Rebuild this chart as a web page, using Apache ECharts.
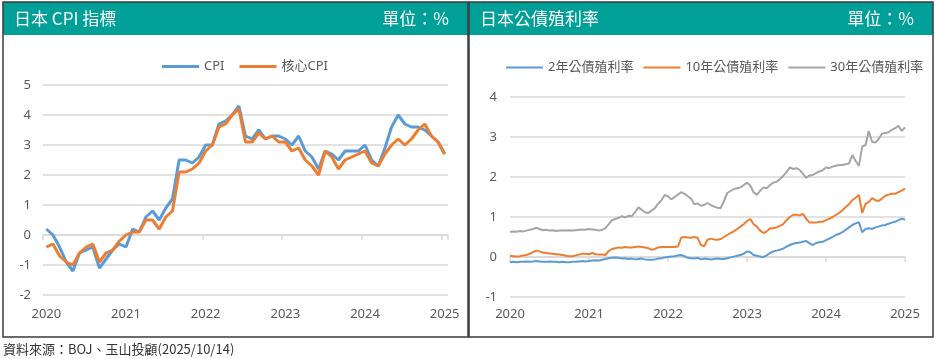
<!DOCTYPE html>
<html><head><meta charset="utf-8">
<script src="https://cdn.jsdelivr.net/npm/echarts@6/dist/echarts.min.js"></script>
<style>html,body{margin:0;padding:0;background:#fff;}#c{width:936px;height:359px;}</style>
</head><body><div id="c"></div>
<script>
// ---------- data ----------
const yearLabels = ['2020','2021','2022','2023','2024','2025'];

// monthly, Aug 2020 .. Aug 2025
const cpiMonths = [];
for (let k = 0; k < 61; k++) { const m = 7 + k; cpiMonths.push((2020 + Math.floor(m / 12)) + '-' + String(m % 12 + 1).padStart(2, '0')); }

const cpi = [0.2,0.0,-0.4,-0.9,-1.2,
  -0.6,-0.5,-0.4,-1.1,-0.8,-0.5,-0.3,-0.4,0.2,0.1,0.6,0.8,
  0.5,0.9,1.2,2.5,2.5,2.4,2.6,3.0,3.0,3.7,3.8,4.0,
  4.3,3.3,3.2,3.5,3.2,3.3,3.3,3.2,3.0,3.3,2.8,2.6,
  2.2,2.8,2.7,2.5,2.8,2.8,2.8,3.0,2.5,2.3,2.9,3.6,
  4.0,3.7,3.6,3.6,3.5,3.3,3.1,2.7];
const coreCpi = [-0.4,-0.3,-0.7,-0.9,-1.0,
  -0.6,-0.4,-0.3,-0.9,-0.6,-0.5,-0.2,0.0,0.1,0.1,0.5,0.5,
  0.2,0.6,0.8,2.1,2.1,2.2,2.4,2.8,3.0,3.6,3.7,4.0,
  4.2,3.1,3.1,3.4,3.2,3.3,3.1,3.1,2.8,2.9,2.5,2.3,
  2.0,2.8,2.6,2.2,2.5,2.6,2.7,2.8,2.4,2.3,2.7,3.0,
  3.2,3.0,3.2,3.5,3.7,3.3,3.1,2.7];

// semi-monthly, Oct 2020 .. Oct 2025
const bondDates = [];
for (let k = 0; k < 121; k++) { const m = 9 + Math.floor((k + 1) / 2); bondDates.push((2020 + Math.floor(m / 12)) + '-' + String(m % 12 + 1).padStart(2, '0') + (k % 2 === 0 ? '-15' : '-01')); }

const jgb2y = [-0.13,-0.12,-0.13,-0.12,-0.12,-0.11,-0.12,-0.11,-0.10,-0.11,-0.12,-0.12,-0.11,-0.12,-0.12,-0.13,-0.12,-0.13,-0.13,-0.12,-0.12,-0.11,-0.10,-0.11,-0.10,-0.09,-0.08,-0.09,-0.07,-0.05,
  -0.03,-0.02,-0.01,-0.02,-0.04,-0.03,-0.05,-0.04,-0.06,-0.05,-0.04,-0.06,-0.07,-0.07,-0.06,-0.04,-0.03,-0.01,0.00,0.01,0.02,0.04,0.05,0.02,-0.02,-0.03,-0.04,-0.02,-0.06,-0.04,
  -0.05,-0.06,-0.05,-0.04,-0.05,-0.05,-0.03,-0.01,0.01,0.03,0.05,0.08,0.14,0.12,0.05,0.03,0.01,0.00,0.04,0.10,0.14,0.16,0.18,0.21,0.26,0.30,0.33,0.35,0.36,0.38,
  0.40,0.34,0.30,0.35,0.37,0.38,0.42,0.46,0.50,0.55,0.58,0.62,0.68,0.74,0.80,0.84,0.87,0.62,0.70,0.72,0.70,0.74,0.76,0.79,0.80,0.83,0.86,0.88,0.92,0.96,0.93];
const jgb10y = [0.03,0.02,0.01,0.02,0.04,0.05,0.08,0.12,0.16,0.14,0.11,0.10,0.09,0.08,0.07,0.06,0.05,0.03,0.02,0.02,0.04,0.06,0.08,0.08,0.07,0.10,0.07,0.06,0.06,0.05,
  0.15,0.20,0.22,0.24,0.23,0.25,0.24,0.24,0.25,0.26,0.25,0.24,0.22,0.18,0.20,0.24,0.25,0.25,0.25,0.25,0.25,0.26,0.48,0.50,0.49,0.48,0.50,0.48,0.30,0.27,
  0.43,0.46,0.44,0.43,0.45,0.50,0.55,0.60,0.64,0.70,0.76,0.82,0.90,0.95,0.82,0.76,0.66,0.60,0.64,0.72,0.72,0.74,0.78,0.82,0.92,1.00,1.05,1.06,1.04,1.08,
  0.95,0.86,0.86,0.86,0.88,0.88,0.92,0.96,1.00,1.05,1.10,1.17,1.25,1.32,1.42,1.48,1.55,1.10,1.33,1.38,1.47,1.42,1.40,1.46,1.53,1.56,1.58,1.58,1.62,1.66,1.71];
const jgb30y = [0.63,0.64,0.63,0.65,0.64,0.66,0.68,0.70,0.73,0.70,0.67,0.68,0.66,0.67,0.65,0.66,0.67,0.66,0.67,0.66,0.67,0.68,0.69,0.68,0.70,0.69,0.68,0.66,0.68,0.72,
  0.82,0.92,0.95,0.98,1.02,0.99,1.03,1.02,1.12,1.24,1.18,1.12,1.10,1.16,1.22,1.33,1.42,1.55,1.52,1.44,1.50,1.56,1.62,1.58,1.52,1.46,1.32,1.34,1.28,1.30,
  1.35,1.30,1.26,1.23,1.22,1.40,1.60,1.65,1.70,1.72,1.74,1.80,1.86,1.78,1.62,1.55,1.66,1.74,1.72,1.80,1.86,1.88,1.95,2.03,2.12,2.24,2.20,2.22,2.18,2.08,
  1.98,2.04,2.05,2.10,2.14,2.17,2.24,2.22,2.26,2.28,2.30,2.30,2.32,2.34,2.55,2.40,2.28,2.76,2.80,3.15,2.88,2.86,2.95,3.08,3.10,3.12,3.18,3.22,3.28,3.15,3.24];

// ---------- chart ----------
const FONT = '"Noto Sans","Noto Sans CJK TC",sans-serif';
const LBL = '#595959', GRID = '#D9D9D9', HEAD = '#00A098';
const BLUE = '#5B9BD5', ORANGE = '#ED7D31', GRAY = '#A5A5A5';

const chart = echarts.init(document.getElementById('c'));
function panel(x, w, title) {
  return [
    { type: 'rect', shape: { x: x, y: 2, width: w, height: 33 }, style: { fill: HEAD } },
    { type: 'rect', shape: { x: x, y: 2, width: w, height: 335 }, style: { fill: 'none', stroke: '#3a3a3a', lineWidth: 1.5 } },
    { type: 'text', x: x + 11, y: 19, style: { text: title, fill: '#fff', font: '17px "Noto Sans CJK TC", sans-serif', verticalAlign: 'middle' } },
    { type: 'text', x: x + w - 19, y: 19, style: { text: '單位：%', fill: '#fff', font: '17px "Noto Sans CJK TC", sans-serif', align: 'right', verticalAlign: 'middle' } }
  ];
}
const yearFmt = (step) => (v, i) => (i % step === 0 ? yearLabels[i / step] : '');

chart.setOption({
  animation: false,
  textStyle: { fontFamily: FONT },
  graphic: [].concat(panel(3, 465, '日本 CPI 指標'), panel(469, 464, '日本公債殖利率'), [
    { type: 'text', x: 3, y: 349, style: { text: '資料來源：BOJ、玉山投顧(2025/10/14)', fill: '#333', font: '13px "Noto Sans CJK TC", sans-serif', verticalAlign: 'middle' } }
  ]),
  legend: [
    { data: ['CPI', '核心CPI'], left: 157, top: 55, icon: 'rect', itemWidth: 37, itemHeight: 3, itemGap: 15,
      textStyle: { color: LBL, fontSize: 13, fontFamily: FONT } },
    { data: ['2年公債殖利率', '10年公債殖利率', '30年公債殖利率'], left: 501, top: 56, icon: 'rect', itemWidth: 37, itemHeight: 2, itemGap: 10,
      textStyle: { color: LBL, fontSize: 13, fontFamily: FONT } }
  ],
  grid: [
    { left: 43, top: 85, width: 405, height: 210 },
    { left: 510, top: 97, width: 395, height: 200 }
  ],
  xAxis: [
    { gridIndex: 0, type: 'category', data: cpiMonths, boundaryGap: true,
      axisLine: { onZero: true, lineStyle: { color: GRID, width: 1.5 } },
      axisTick: { show: true, interval: 11, length: 5, lineStyle: { color: GRID, width: 1.5 } },
      axisLabel: { show: false }, splitLine: { show: false } },
    { gridIndex: 0, type: 'category', data: cpiMonths, boundaryGap: true, position: 'bottom',
      axisLine: { show: false, onZero: false }, axisTick: { show: false },
      axisLabel: { interval: 11, formatter: yearFmt(12), color: LBL, fontSize: 13, margin: 13 } },
    { gridIndex: 1, type: 'category', data: bondDates, boundaryGap: false,
      axisLine: { onZero: true, lineStyle: { color: GRID, width: 1.5 } },
      axisTick: { show: true, interval: 23, length: 5, lineStyle: { color: GRID, width: 1.5 } },
      axisLabel: { show: false }, splitLine: { show: false } },
    { gridIndex: 1, type: 'category', data: bondDates, boundaryGap: false, position: 'bottom',
      axisLine: { show: false, onZero: false }, axisTick: { show: false },
      axisLabel: { interval: 23, formatter: yearFmt(24), color: LBL, fontSize: 13, margin: 11 } }
  ],
  yAxis: [
    { gridIndex: 0, type: 'value', min: -2, max: 5, interval: 1,
      axisLine: { show: false }, axisTick: { show: false },
      axisLabel: { color: LBL, fontSize: 13, margin: 12 },
      splitLine: { lineStyle: { color: GRID, width: 1.5 } } },
    { gridIndex: 1, type: 'value', min: -1, max: 4, interval: 1,
      axisLine: { show: false }, axisTick: { show: false },
      axisLabel: { color: LBL, fontSize: 13, margin: 13 },
      splitLine: { lineStyle: { color: GRID, width: 1.5 } } }
  ],
  series: [
    { name: 'CPI', type: 'line', xAxisIndex: 0, yAxisIndex: 0, data: cpi, showSymbol: false, color: BLUE, lineStyle: { width: 3 } },
    { name: '核心CPI', type: 'line', xAxisIndex: 0, yAxisIndex: 0, data: coreCpi, showSymbol: false, color: ORANGE, lineStyle: { width: 3 } },
    { name: '2年公債殖利率', type: 'line', xAxisIndex: 2, yAxisIndex: 1, data: jgb2y, showSymbol: false, color: BLUE, lineStyle: { width: 2 } },
    { name: '10年公債殖利率', type: 'line', xAxisIndex: 2, yAxisIndex: 1, data: jgb10y, showSymbol: false, color: ORANGE, lineStyle: { width: 2 } },
    { name: '30年公債殖利率', type: 'line', xAxisIndex: 2, yAxisIndex: 1, data: jgb30y, showSymbol: false, color: GRAY, lineStyle: { width: 2 } }
  ]
});
</script>
</body></html>
